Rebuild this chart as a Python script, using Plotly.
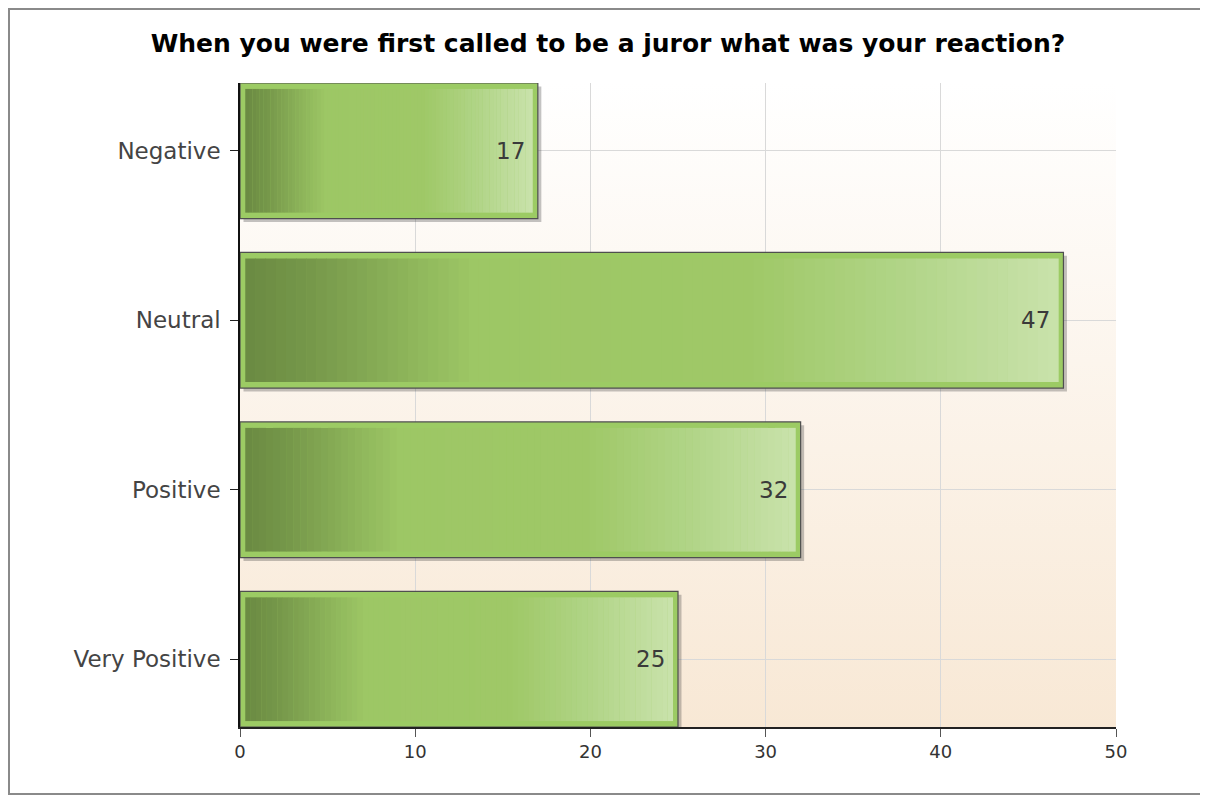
import base64

import plotly.graph_objects as go

# Survey data
categories = ["Negative", "Neutral", "Positive", "Very Positive"]
counts = [17, 47, 32, 25]
x_ticks = [0, 10, 20, 30, 40, 50]

TITLE = "When you were first called to be a juror what was your reaction?"
FONT = "DejaVu Sans, Verdana, sans-serif"

# Left-to-right colour stops of the bar fill (fraction of bar length, rgb)
_STOPS = [
    (0.00, (106, 138, 66)),
    (0.08, (118, 152, 74)),
    (0.28, (157, 199, 101)),
    (0.62, (159, 200, 103)),
    (0.80, (176, 212, 134)),
    (1.00, (201, 226, 171)),
]
_BORDER_GREEN = "#9ccb64"
_OUTLINE = "#4f4f4f"
_N_SEG = 80
_INSET = 0.3  # value units between outer border and gradient fill


def _color_at(f):
    for (f0, c0), (f1, c1) in zip(_STOPS, _STOPS[1:]):
        if f <= f1:
            t = (f - f0) / (f1 - f0) if f1 > f0 else 0
            r, g, b = (round(a + (b_ - a) * t) for a, b_ in zip(c0, c1))
            return f"rgb({r},{g},{b})"
    r, g, b = _STOPS[-1][1]
    return f"rgb({r},{g},{b})"


def _bg_image():
    svg = (
        "<svg xmlns='http://www.w3.org/2000/svg' width='100' height='100' "
        "viewBox='0 0 100 100' preserveAspectRatio='none'><defs>"
        "<linearGradient id='g' x1='0' y1='0' x2='0' y2='1'>"
        "<stop offset='0' stop-color='#ffffff'/>"
        "<stop offset='1' stop-color='#f8e8d5'/>"
        "</linearGradient></defs>"
        "<rect width='100' height='100' fill='url(#g)'/></svg>"
    )
    return "data:image/svg+xml;base64," + base64.b64encode(svg.encode()).decode()


fig = go.Figure()

# drop shadow
fig.add_bar(
    y=categories,
    x=counts,
    base=[0.2] * len(counts),
    orientation="h",
    width=0.8,
    offset=-0.38,
    marker={"color": "rgba(60,60,60,0.3)", "line": {"width": 0}},
    hoverinfo="skip",
    showlegend=False,
)
# outer bar with light green border
fig.add_bar(
    y=categories,
    x=counts,
    orientation="h",
    width=0.8,
    marker={"color": _BORDER_GREEN, "line": {"color": _OUTLINE, "width": 1.2}},
    hoverinfo="skip",
    showlegend=False,
)
# gradient fill, built as thin slices of each bar
for k in range(_N_SEG):
    f = (k + 0.5) / _N_SEG
    span = [v - 2 * _INSET for v in counts]
    fig.add_bar(
        y=categories,
        x=[s / _N_SEG * 1.05 for s in span],
        base=[_INSET + s * k / _N_SEG for s in span],
        orientation="h",
        width=0.73,
        marker={"color": _color_at(f), "line": {"width": 0}},
        hoverinfo="skip",
        showlegend=False,
    )

for cat, v in zip(categories, counts):
    fig.add_annotation(
        x=v,
        y=cat,
        text=str(v),
        showarrow=False,
        xanchor="right",
        xshift=-11,
        font={"family": FONT, "size": 23, "color": "#3a3a3a"},
    )

fig.add_layout_image(
    source=_bg_image(),
    xref="paper",
    yref="paper",
    x=0,
    y=1,
    sizex=1,
    sizey=1,
    sizing="stretch",
    layer="below",
)

# page body adds an 8px margin, so the figure is 8px smaller than the window
W, H = 1200, 788
L, R, T, B = 232, 92, 75, 69
pw, ph = W - L - R, H - T - B

# grey frame around the whole picture
fig.add_shape(
    type="rect",
    xref="paper",
    yref="paper",
    x0=(1 - L) / pw,
    x1=(W - 2 - L) / pw,
    y0=(H - B - (H - 2)) / ph,
    y1=(H - B - 1) / ph,
    line={"color": "#8a8a8a", "width": 2},
    layer="above",
)

fig.update_layout(
    width=W,
    height=H,
    margin={"l": L, "r": R, "t": T, "b": B},
    barmode="overlay",
    paper_bgcolor="white",
    plot_bgcolor="white",
    font={"family": FONT},
    title={
        "text": f"<b>{TITLE}</b>",
        "x": 0.5,
        "xref": "container",
        "y": 1 - 35 / H,
        "yref": "container",
        "xanchor": "center",
        "yanchor": "middle",
        "font": {"family": FONT, "size": 25, "color": "#000000"},
    },
)
fig.update_xaxes(
    range=[0, 50],
    tickvals=x_ticks,
    showgrid=True,
    gridcolor="#d9d9d9",
    gridwidth=1,
    zeroline=False,
    showline=True,
    linecolor="#222222",
    linewidth=1.5,
    ticks="outside",
    ticklen=8,
    tickcolor="#555555",
    tickfont={"family": FONT, "size": 18, "color": "#333333"},
)
fig.update_yaxes(
    categoryorder="array",
    categoryarray=categories,
    range=[3.4, -0.4],
    showgrid=True,
    gridcolor="#d9d9d9",
    gridwidth=1,
    zeroline=False,
    showline=True,
    linecolor="#111111",
    linewidth=1.5,
    ticks="outside",
    ticklen=8,
    tickcolor="#222222",
    ticklabelstandoff=5,
    tickfont={"family": FONT, "size": 23, "color": "#444444"},
)

fig.write_html("out.html")
